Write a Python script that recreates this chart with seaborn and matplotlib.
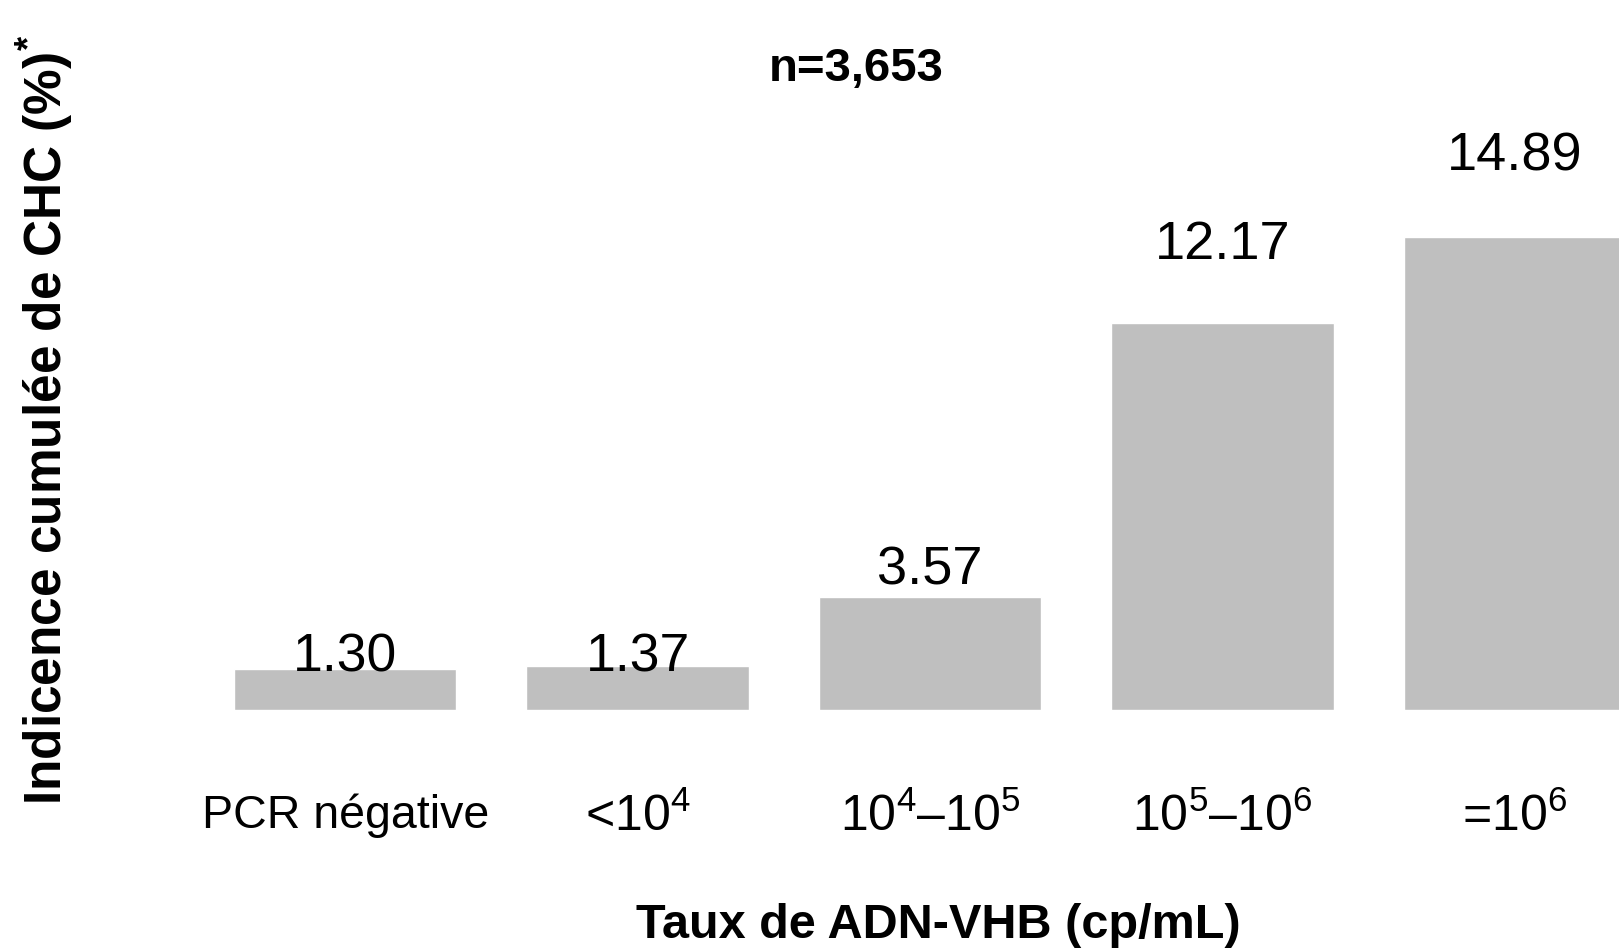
import matplotlib
matplotlib.use("Agg")
import matplotlib.pyplot as plt
import seaborn as sns
import pandas as pd

categories = ["PCR négative", "<10$^4$", "10$^4$–10$^5$", "10$^5$–10$^6$", "=10$^6$"]
values = [1.30, 1.37, 3.57, 12.17, 14.89]
value_labels = ["1.30", "1.37", "3.57", "12.17", "14.89"]
label_offsets = [0.36, 0.29, 0.82, 2.46, 2.54]
tick_sizes = [33.5, 36, 36, 36, 36]
value_sizes = [38.5, 38.5, 39, 39, 39]

sns.set_theme(style="white")
plt.rcParams['font.family'] = ['Liberation Sans', 'DejaVu Sans']
plt.rcParams['text.color'] = 'black'
plt.rcParams['mathtext.fontset'] = 'custom'
plt.rcParams['mathtext.rm'] = 'Liberation Sans'
plt.rcParams['mathtext.it'] = 'Liberation Sans:italic'
plt.rcParams['mathtext.bf'] = 'Liberation Sans:bold'
plt.rcParams['mathtext.default'] = 'regular'

df = pd.DataFrame({"cat": categories, "val": values})

fig = plt.figure(figsize=(16.19, 9.5), dpi=100)
ax = fig.add_axes([199/1619, 240/950, 1462/1619, 710/950])
sns.barplot(data=df, x="cat", y="val", color="#bfbfbf", saturation=1, width=0.76, ax=ax)
ax.set_xlim(-0.5, 4.5)
ax.set_ylim(0, 710/31.76)
for s in ax.spines.values():
    s.set_visible(False)
ax.set_yticks([])
ax.set_xlabel("")
ax.set_ylabel("")
ax.tick_params(axis='x', length=0, pad=60, labelsize=36, labelcolor='black')
for lbl, sz in zip(ax.get_xticklabels(), tick_sizes):
    lbl.set_fontsize(sz)

for i, (v, t, o, sz) in enumerate(zip(values, value_labels, label_offsets, value_sizes)):
    ax.text(i, v + o, t, ha='center', va='center', fontsize=sz, color='black')

fig.text(856/1619, 1 - 69/950, "n=3,653", ha='center', va='center', fontsize=34,
         fontweight='bold', color='black')
fig.text(938/1619, 1 - 926/950, "Taux de ADN-VHB (cp/mL)", ha='center', va='center',
         fontsize=35, fontweight='bold', color='black')
fig.text(45/1619, 1 - 420/950, "Indicence cumulée de CHC (%)$^{\\mathbf{*}}$", ha='center', va='center',
         rotation=90, fontsize=37, fontweight='bold', color='black')

fig.savefig("out.png", dpi=100)
